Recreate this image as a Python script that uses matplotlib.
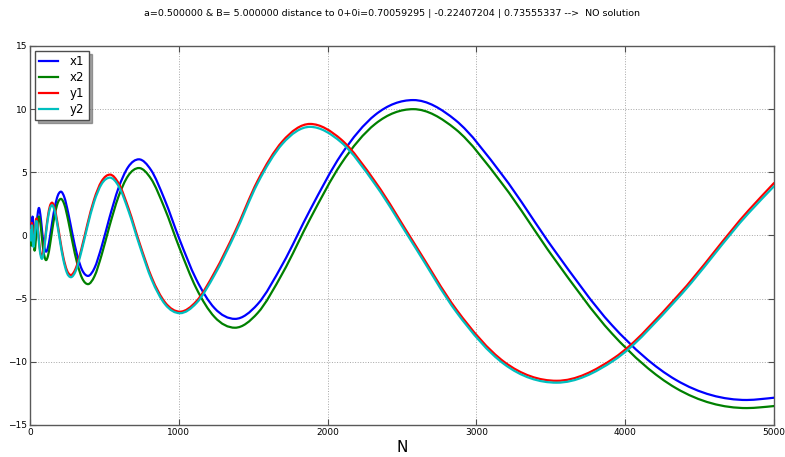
import numpy as np
import matplotlib
matplotlib.use("Agg")
import matplotlib.pyplot as plt
from matplotlib.path import Path
from matplotlib.patches import PathPatch

title = ("a=0.500000 & B= 5.000000 distance to 0+0i=0.70059295 | "
         "-0.22407204 | 0.73555337 -->  NO solution")
series_names = ["x1", "x2", "y1", "y2"]
series_colors = ["#0000ff", "#008000", "#ff0000", "#00bfbf"]
xlabel = "N"
xticks = [0, 1000, 2000, 3000, 4000, 5000]
yticks = [-15, -10, -5, 0, 5, 10, 15]

# sample positions (N) and values
x_N = [1, 5, 9, 17, 31, 43.1, 60, 73, 80.5, 88.8, 108, 120.5, 134.4, 149.9,
       167.2, 186.5, 208, 231, 256.5, 284.8, 316.3, 351.2, 390, 433.2, 481.1,
       534.3, 593.5, 659.1, 732, 813.4, 903.9, 1004.3, 1116, 1240.1, 1378,
       1529.5, 1697.5, 1884, 2091.1, 2321, 2576, 2859.4, 3173.9, 3522.9,
       3910.4, 4340.8, 4818, 4910, 5000]
x1 = [0.5, 0.9, -0.1, 1.5, -0.5, 0.84, 2.18, 1.32, 0.45, -0.42, -1.28, -0.96,
      -0.09, 1.10, 2.28, 3.15, 3.47, 3.02, 1.80, 0.14, -1.53, -2.75, -3.2,
      -2.58, -0.89, 1.42, 3.72, 5.41, 6.03, 5.18, 2.87, -0.29, -3.44, -5.75,
      -6.6, -5.44, -2.27, 2.06, 6.39, 9.56, 10.72, 9.13, 4.79, -1.15, -7.09,
      -11.43, -13.02, -12.95, -12.84]
x2 = [-0.1, 0.3, -0.8, 0.8, -1.2, 0.15, 1.5, 0.64, -0.23, -1.09, -1.95, -1.63,
      -0.74, 0.48, 1.69, 2.58, 2.9, 2.45, 1.21, -0.48, -2.16, -3.40, -3.85,
      -3.23, -1.55, 0.75, 3.04, 4.72, 5.34, 4.49, 2.18, -0.98, -4.14, -6.45,
      -7.3, -6.14, -2.98, 1.35, 5.68, 8.84, 10.0, 8.42, 4.09, -1.83, -7.75,
      -12.08, -13.66, -13.6, -13.5]

y_N = [1, 6.7, 12.5, 23, 43, 52.9, 58.7, 65, 80, 88.6, 98.2, 108.8, 120.6,
       133.6, 148, 164.1, 182, 201.8, 223.7, 248, 275, 307.5, 343.9, 384.7,
       430.2, 481.1, 538, 597.3, 663.2, 736.5, 817.7, 907.9, 1008, 1118.6,
       1241.3, 1377.3, 1528.4, 1696.1, 1882, 2090.9, 2323.1, 2581.2, 2867.8,
       3186.2, 3540, 3926.2, 4354.6, 4830, 5000]
y1 = [0.6, -0.2, 1.0, -0.7, 1.35, 0.6, -0.15, -0.9, -1.65, -1.37, -0.59, 0.48,
      1.54, 2.32, 2.6, 2.22, 1.17, -0.27, -1.70, -2.75, -3.13, -2.60, -1.14,
      0.85, 2.83, 4.29, 4.82, 4.09, 2.11, -0.61, -3.32, -5.30, -6.03, -5.2,
      -2.9, 0.3, 4.3, 7.45, 8.83, 7.6, 4.2, -0.6, -5.9, -10.0, -11.5,
      -9.69, -4.75, 2.0, 4.15]
y2 = [0.4, -0.4, 0.8, -0.9, 1.15, 0.4, -0.35, -1.1, -1.85, -1.57, -0.79, 0.28,
      1.34, 2.12, 2.4, 2.02, 0.97, -0.47, -1.90, -2.95, -3.3, -2.80, -1.34,
      0.65, 2.63, 4.07, 4.58, 3.87, 1.90, -0.80, -3.50, -5.45, -6.15, -5.35,
      -3.1, 0.1, 4.1, 7.25, 8.6, 7.38, 3.98, -0.8, -6.1, -10.18, -11.65,
      -9.87, -4.95, 1.78, 3.9]


def smooth_path(xs, ys):
    xs = np.asarray(xs, float)
    ys = np.asarray(ys, float)
    n = len(xs)
    m = np.zeros(n)
    for i in range(n):
        if i == 0:
            m[i] = (ys[1] - ys[0]) / (xs[1] - xs[0])
        elif i == n - 1:
            m[i] = (ys[-1] - ys[-2]) / (xs[-1] - xs[-2])
        elif (ys[i] - ys[i - 1]) * (ys[i + 1] - ys[i]) <= 0:
            m[i] = 0.0
        else:
            h0 = xs[i] - xs[i - 1]
            h1 = xs[i + 1] - xs[i]
            d0 = (ys[i] - ys[i - 1]) / h0
            d1 = (ys[i + 1] - ys[i]) / h1
            m[i] = (d0 * h1 + d1 * h0) / (h0 + h1)
    verts = [(xs[0], ys[0])]
    codes = [Path.MOVETO]
    for i in range(n - 1):
        dx = xs[i + 1] - xs[i]
        verts += [(xs[i] + dx / 3, ys[i] + m[i] * dx / 3),
                  (xs[i + 1] - dx / 3, ys[i + 1] - m[i + 1] * dx / 3),
                  (xs[i + 1], ys[i + 1])]
        codes += [Path.CURVE4] * 3
    return Path(verts, codes)


fig = plt.figure(figsize=(7.85, 4.57), dpi=100)
ax = fig.add_axes([30 / 785, 1 - 425 / 457, 744 / 785, 379 / 457])

series = [(x_N, x1), (x_N, x2), (y_N, y1), (y_N, y2)]
for k, ((ns, vs), name, col) in enumerate(zip(series, series_names, series_colors)):
    patch = PathPatch(smooth_path(ns, vs), facecolor="none", edgecolor=col,
                      lw=1.6, transform=ax.transData, zorder=3 + k,
                      capstyle="round", joinstyle="round")
    ax.add_patch(patch)
    ax.plot([], [], color=col, lw=1.6, label=name)

ax.set_xlim(0, 5000)
ax.set_ylim(-15, 15)
ax.set_xticks(xticks)
ax.set_yticks(yticks)
ax.grid(True, color="0.65", ls=":", lw=0.7)
ax.tick_params(direction="in", length=4, labelsize=6.5, top=True, right=True,
               color="0.3", pad=2)
for s in ax.spines.values():
    s.set_color("0.35")
    s.set_linewidth(1.0)
ax.set_xlabel(xlabel, fontsize=11, labelpad=2)

leg = ax.legend(loc="upper left", fontsize=8.5, shadow=True, fancybox=False,
                handlelength=1.6, labelspacing=0.25, borderaxespad=0.45,
                handletextpad=1.0, borderpad=0.35, framealpha=1)
leg.get_frame().set_edgecolor("0.3")

fig.text(0.5, 1 - 13 / 457, title, ha="center", va="center", fontsize=6.8)

fig.savefig("out.png", dpi=100)
